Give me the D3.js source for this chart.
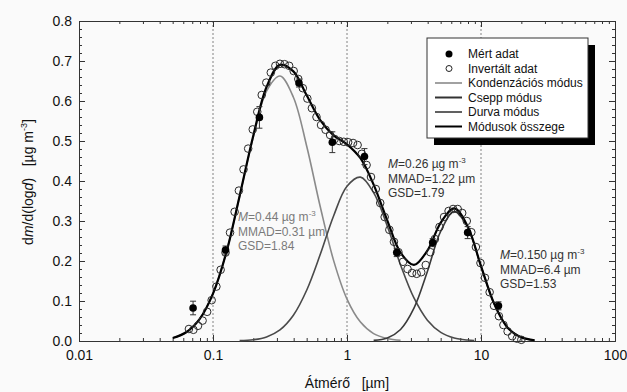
<!DOCTYPE html>
<html><head><meta charset="utf-8">
<script src="https://cdnjs.cloudflare.com/ajax/libs/d3/7.8.5/d3.min.js"></script>
<style>
body{margin:0;background:#fafafa;}
svg{display:block;font-family:"Liberation Sans",Arial,sans-serif;}
text{white-space:pre;}
</style></head>
<body><svg id="c" width="627" height="392"></svg>
<script>
// ---- data (diameters in µm, values in µg m^-3) ----
const xTickLabels = ["0.01","0.1","1","10","100"];
const xTickValues = [0.01,0.1,1,10,100];
const yTickValues = [0,0.1,0.2,0.3,0.4,0.5,0.6,0.7,0.8];

// measured data (filled) with error bars
const measDiam = [0.071,0.124,0.222,0.438,0.777,1.35,2.35,4.36,7.95,13.5];
const measVal  = [0.0825,0.2275,0.559,0.645,0.497,0.461,0.221,0.246,0.271,0.088];
const measErr  = [0.017,0.010,0.027,0.010,0.026,0.020,0.010,0.010,0.015,0.010];

// inverted data (open circles)
const invDiam = [0.0661,0.0714,0.0773,0.0836,0.0904,0.0977,0.106,0.114,0.124,0.134,
  0.145,0.156,0.169,0.183,0.198,0.214,0.231,0.250,0.270,0.292,
  0.316,0.342,0.370,0.400,0.433,0.468,0.506,0.547,0.592,0.640,
  0.692,0.748,0.809,0.875,0.946,1.02,1.11,1.20,1.29,1.40,
  1.51,1.64,1.77,1.91,2.07,2.24,2.42,2.62,2.83,3.06,
  3.31,3.58,3.87,4.19,4.53,4.90,5.30,5.73,6.19,6.70,
  7.24,7.83,8.47,9.16,9.91,10.7,11.6,12.5,13.6,14.7,
  15.8,17.1,18.5,20.0];
const invVal = [0.030,0.028,0.038,0.051,0.073,0.102,0.136,0.178,0.221,0.271,
  0.323,0.376,0.429,0.481,0.529,0.573,0.615,0.646,0.671,0.688,
  0.693,0.692,0.688,0.675,0.655,0.632,0.606,0.582,0.560,0.540,
  0.528,0.515,0.505,0.500,0.498,0.497,0.495,0.490,0.468,0.440,
  0.410,0.380,0.345,0.310,0.278,0.248,0.222,0.198,0.180,0.170,
  0.168,0.172,0.190,0.222,0.255,0.285,0.310,0.325,0.330,0.330,
  0.320,0.300,0.272,0.235,0.195,0.158,0.122,0.088,0.062,0.040,
  0.024,0.012,0.006,0.003];

// mode curves
const condDiam = [0.0501,0.0631,0.0794,0.1,0.126,0.158,0.200,0.251,0.316,0.398,0.501,0.631,0.794,1,1.26,1.58,2.0,2.51];
const condVal  = [0.0076,0.0219,0.0547,0.1185,0.2224,0.3619,0.5105,0.6246,0.6625,0.6095,0.4861,0.3362,0.2016,0.1048,0.0473,0.0185,0.0063,0.0018];
const dropDiam = [0.158,0.200,0.251,0.316,0.398,0.501,0.631,0.794,1,1.26,1.58,2.0,2.51,3.16,3.98,5.01,6.31,7.94,8.91];
const dropVal  = [0.0009,0.0033,0.0103,0.0279,0.0645,0.1276,0.2160,0.3126,0.3869,0.4096,0.3708,0.2871,0.1901,0.1076,0.0521,0.0216,0.0077,0.0023,0.0012];
const coarDiam = [1.58,2.0,2.51,3.16,3.98,5.01,6.31,7.94,10,12.6,15.8,20.0,25.1];
const coarVal  = [0.0015,0.0076,0.0288,0.0820,0.1738,0.2746,0.3238,0.2848,0.1868,0.0914,0.0334,0.0091,0.0018];
const sumDiam = [0.0501,0.0631,0.0794,0.1,0.126,0.158,0.200,0.251,0.316,0.398,0.501,0.631,0.794,1,1.26,1.58,2.0,2.51,3.16,3.98,5.01,6.31,7.94,10,12.6,15.8,20.0,25.1];
const sumVal  = [0.0076,0.0219,0.0547,0.1185,0.2224,0.3628,0.5138,0.6349,0.6904,0.6740,0.6137,0.5522,0.5142,0.4917,0.4569,0.3908,0.3010,0.2207,0.1901,0.2260,0.2962,0.3315,0.2871,0.1874,0.0915,0.0334,0.0091,0.0018];

const legendLabels = ["Mért adat","Invertált adat","Kondenzációs módus","Csepp módus","Durva módus","Módusok összege"];

// ---- drawing ----
const svg = d3.select("#c");
const L=79,R=615,T=21,B=341;
const x = d3.scaleLog().domain([0.01,100]).range([L,R]);
const y = d3.scaleLinear().domain([0,0.8]).range([B,T]);
const axisColor="#333";

svg.append("rect").attr("width",627).attr("height",392).attr("fill","#fafafa");

// dashed decade lines
svg.append("g").selectAll("line").data([0.1,1,10]).join("line")
  .attr("x1",d=>x(d)).attr("x2",d=>x(d)).attr("y1",T).attr("y2",B)
  .attr("stroke","#666").attr("stroke-width",0.8).attr("stroke-dasharray","2,2");

const minorX=[];
[0.01,0.1,1,10].forEach(b=>{for(let i=2;i<=9;i++)minorX.push(b*i);});
const minorY=d3.range(0,0.8001,0.02).filter(v=>Math.abs(Math.round(v*10)-v*10)>1e-6);

function styleAxis(g){g.select(".domain").attr("stroke",axisColor);g.selectAll(".tick line").attr("stroke",axisColor);}

svg.append("g").attr("transform",`translate(0,${B})`)
  .call(d3.axisBottom(x).tickValues(xTickValues).tickFormat((d,i)=>xTickLabels[i]).tickSize(-6).tickPadding(9).tickSizeOuter(0))
  .call(styleAxis).call(g=>g.selectAll("text").attr("font-size",14).attr("fill","#111").attr("font-family","Liberation Sans, Arial, sans-serif"));
svg.append("g").attr("transform",`translate(0,${B})`)
  .call(d3.axisBottom(x).tickValues(minorX).tickFormat("").tickSize(-3).tickSizeOuter(0)).call(styleAxis);
svg.append("g").attr("transform",`translate(0,${T})`)
  .call(d3.axisTop(x).tickValues(xTickValues).tickFormat("").tickSize(-6).tickSizeOuter(0)).call(styleAxis);
svg.append("g").attr("transform",`translate(0,${T})`)
  .call(d3.axisTop(x).tickValues(minorX).tickFormat("").tickSize(-3).tickSizeOuter(0)).call(styleAxis);

svg.append("g").attr("transform",`translate(${L},0)`)
  .call(d3.axisLeft(y).tickValues(yTickValues).tickFormat(d3.format(".1f")).tickSize(-6).tickPadding(7).tickSizeOuter(0))
  .call(styleAxis).call(g=>g.selectAll("text").attr("font-size",14).attr("fill","#111").attr("font-family","Liberation Sans, Arial, sans-serif"));
svg.append("g").attr("transform",`translate(${L},0)`)
  .call(d3.axisLeft(y).tickValues(minorY).tickFormat("").tickSize(-3).tickSizeOuter(0)).call(styleAxis);
svg.append("g").attr("transform",`translate(${R},0)`)
  .call(d3.axisRight(y).tickValues(yTickValues).tickFormat("").tickSize(-6).tickSizeOuter(0)).call(styleAxis);
svg.append("g").attr("transform",`translate(${R},0)`)
  .call(d3.axisRight(y).tickValues(minorY).tickFormat("").tickSize(-3).tickSizeOuter(0)).call(styleAxis);

// curves
const line = d3.line().x(d=>x(d[0])).y(d=>y(d[1])).curve(d3.curveCatmullRom.alpha(0.5));
const zip=(a,b)=>a.map((v,i)=>[v,b[i]]);
svg.append("path").attr("d",line(zip(condDiam,condVal))).attr("fill","none").attr("stroke","#8a8a8a").attr("stroke-width",1.6);
svg.append("path").attr("d",line(zip(dropDiam,dropVal))).attr("fill","none").attr("stroke","#4a4a4a").attr("stroke-width",1.6);
svg.append("path").attr("d",line(zip(coarDiam,coarVal))).attr("fill","none").attr("stroke","#3a3a3a").attr("stroke-width",1.6);
svg.append("path").attr("d",line(zip(sumDiam,sumVal))).attr("fill","none").attr("stroke","#000").attr("stroke-width",2.2);

// open circles
svg.append("g").selectAll("circle").data(zip(invDiam,invVal)).join("circle")
  .attr("cx",d=>x(d[0])).attr("cy",d=>y(d[1])).attr("r",3.8)
  .attr("fill","none").attr("stroke","#2a2a2a").attr("stroke-width",1);

// measured with error bars
const mg=svg.append("g");
measDiam.forEach((d,i)=>{
  const cx=x(d),y0=y(measVal[i]-measErr[i]),y1=y(measVal[i]+measErr[i]);
  mg.append("line").attr("x1",cx).attr("x2",cx).attr("y1",y0).attr("y2",y1).attr("stroke","#333").attr("stroke-width",1);
  [y0,y1].forEach(yy=>mg.append("line").attr("x1",cx-3).attr("x2",cx+3).attr("y1",yy).attr("y2",yy).attr("stroke","#333").attr("stroke-width",1));
  mg.append("circle").attr("cx",cx).attr("cy",y(measVal[i])).attr("r",3.8).attr("fill","#000");
});

// annotations
function annot(x0,y0,color,lines){
  const g=svg.append("g").attr("fill",color).attr("font-size",12);
  lines.forEach((ln,i)=>{
    const t=g.append("text").attr("x",x0).attr("y",y0+i*14.5);
    ln.forEach(p=>{
      const s=t.append("tspan").text(p.t);
      if(p.i) s.attr("font-style","italic");
      if(p.sup) s.attr("font-size",8).attr("dy",-5);
    });
  });
}
annot(238,221,"#7a7a7a",[
  [{t:"M",i:1},{t:"=0.44 µg m"},{t:"-3",sup:1}],
  [{t:"MMAD=0.31 µm"}],[{t:"GSD=1.84"}]]);
annot(388,168,"#333",[
  [{t:"M",i:1},{t:"=0.26 µg m"},{t:"-3",sup:1}],
  [{t:"MMAD=1.22 µm"}],[{t:"GSD=1.79"}]]);
annot(500,259,"#333",[
  [{t:"M",i:1},{t:"=0.150 µg m"},{t:"-3",sup:1}],
  [{t:"MMAD=6.4 µm"}],[{t:"GSD=1.53"}]]);

// axis titles
svg.append("text").attr("x",347).attr("y",388).attr("text-anchor","middle").attr("font-size",14).attr("fill","#111")
  .text("Átmérő   [µm]");
const yl=svg.append("text").attr("transform","translate(33,182) rotate(-90)").attr("text-anchor","middle").attr("font-size",14).attr("fill","#111");
yl.append("tspan").text("d");
yl.append("tspan").text("m").attr("font-style","italic");
yl.append("tspan").text("/d(log");
yl.append("tspan").text("d").attr("font-style","italic");
yl.append("tspan").text(")   [µg m");
yl.append("tspan").text("-3").attr("font-size",9).attr("dy",-6);
yl.append("tspan").text("]").attr("dy",6);

// legend
const lx=427,ly=38,lw=161,lh=100;
svg.append("rect").attr("x",lx+7).attr("y",ly+7).attr("width",lw).attr("height",lh).attr("fill","#000");
svg.append("rect").attr("x",lx).attr("y",ly).attr("width",lw).attr("height",lh).attr("fill","#fff").attr("stroke","#333").attr("stroke-width",1);
const legStyles=[
  {type:"dot"},{type:"circle"},
  {type:"line",c:"#8a8a8a",w:1.6},{type:"line",c:"#333",w:2},{type:"line",c:"#3a3a3a",w:1.6},{type:"line",c:"#000",w:2}];
legendLabels.forEach((lab,i)=>{
  const yy=ly+16+i*14.5, st=legStyles[i];
  if(st.type==="dot") svg.append("circle").attr("cx",449).attr("cy",yy).attr("r",3.5).attr("fill","#000");
  else if(st.type==="circle") svg.append("circle").attr("cx",449).attr("cy",yy).attr("r",3).attr("fill","none").attr("stroke","#222");
  else svg.append("line").attr("x1",435).attr("x2",462).attr("y1",yy).attr("y2",yy).attr("stroke",st.c).attr("stroke-width",st.w);
  svg.append("text").attr("x",468).attr("y",yy).attr("dy","0.35em").attr("font-size",12).attr("fill","#111").text(lab);
});
</script></body></html>
